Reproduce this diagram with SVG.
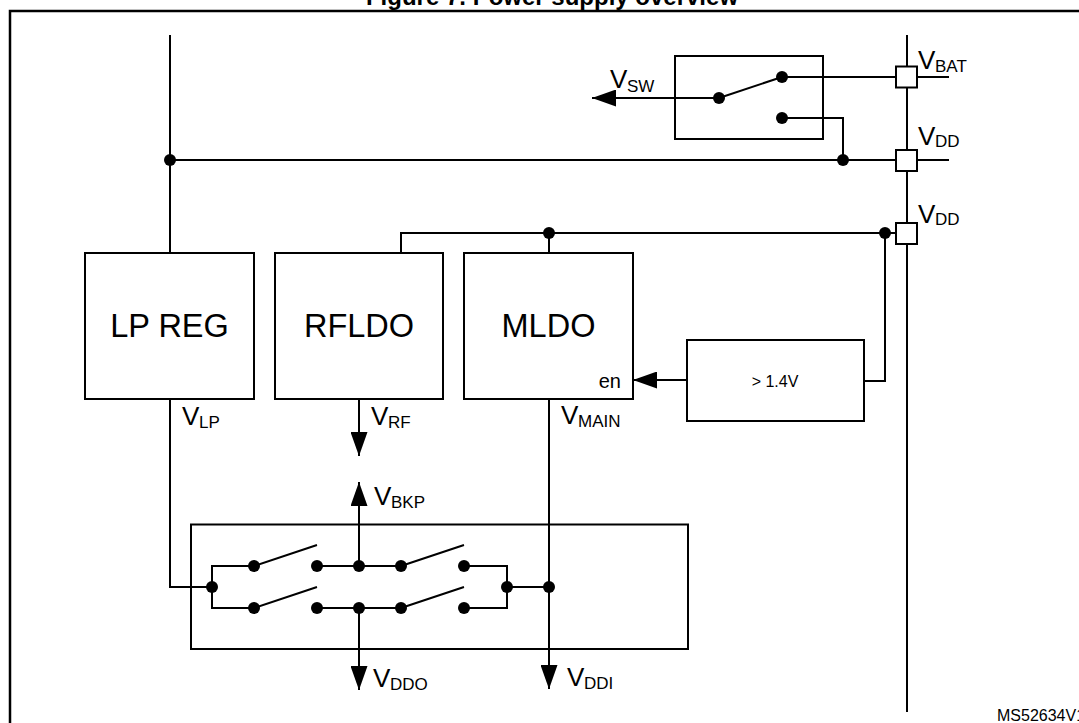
<svg xmlns="http://www.w3.org/2000/svg" width="1079" height="723" viewBox="0 0 1079 723">
<defs>
<marker id="arr" markerUnits="userSpaceOnUse" viewBox="0 0 24 17" markerWidth="24" markerHeight="17" refX="24" refY="8.5" orient="auto">
<path d="M0,0 L24,8.5 L0,17 Z" fill="#000"/>
</marker>
</defs>
<style>
.w{stroke:#000;stroke-width:2;fill:none}
.a{stroke:#000;stroke-width:2;fill:none;marker-end:url(#arr)}
.box{stroke:#000;stroke-width:2;fill:#fff}
.frame{stroke:#000;stroke-width:2;fill:none}
.dot{fill:#000}
text{font-family:"Liberation Sans",Arial,sans-serif;fill:#000}
.big{font-size:32.5px;text-anchor:middle}
.v{font-size:26px}
.s{font-size:17px}
</style>
<rect width="1079" height="723" fill="#fff"/>
<text x="552" y="5" text-anchor="middle" font-weight="bold" font-size="24">Figure 7. Power supply overview</text>
<path d="M10,723 V11 H1079" stroke="#000" stroke-width="2.5" fill="none"/>

<g id="connectors">
<path class="w" d="M170,35 V253"/>
<path class="w" d="M170,160 H949"/>
<path class="w" d="M907,35 V712"/>
<path class="w" d="M782,77 H949"/>
<path class="a" d="M719,98 H592"/>
<path class="w" d="M719,98 L782,77"/>
<path class="w" d="M782,118 H843 V160"/>
<path class="w" d="M401,253 V233 H900"/>
<path class="w" d="M549,233 V253"/>
<path class="w" d="M885,233 V381 H864"/>
<path class="a" d="M687,380 H633"/>
<path class="w" d="M170,399 V587 H212"/>
<path class="a" d="M359,399 V456"/>
<path class="a" d="M549,399 V689"/>
<path class="a" d="M359,566 V482"/>
<path class="a" d="M359,608 V690"/>
<path class="w" d="M254,566 H212 V608 H254"/>
<path class="w" d="M317,566 H401 M317,608 H401"/>
<path class="w" d="M464,566 H507 V608 H464 M507,587 H549"/>
<path class="w" d="M254,566 L317,545 M254,608 L317,587 M401,566 L464,545 M401,608 L464,587"/>
<g class="dot">
<circle cx="170" cy="160" r="6"/>
<circle cx="843" cy="160" r="6"/>
<circle cx="782" cy="77" r="6"/>
<circle cx="719" cy="98" r="6"/>
<circle cx="782" cy="118" r="6"/>
<circle cx="549" cy="233" r="6"/>
<circle cx="885" cy="233" r="6"/>
<circle cx="212" cy="587" r="6"/>
<circle cx="254" cy="566" r="6"/>
<circle cx="317" cy="566" r="6"/>
<circle cx="359" cy="566" r="6"/>
<circle cx="401" cy="566" r="6"/>
<circle cx="464" cy="566" r="6"/>
<circle cx="254" cy="608" r="6"/>
<circle cx="317" cy="608" r="6"/>
<circle cx="359" cy="608" r="6"/>
<circle cx="401" cy="608" r="6"/>
<circle cx="464" cy="608" r="6"/>
<circle cx="507" cy="587" r="6"/>
<circle cx="549" cy="587" r="6"/>
</g>
</g>

<g id="pad-vbat">
<rect class="box" x="896" y="66.5" width="21" height="21"/>
<text class="v" x="918" y="69">V</text><text class="s" x="935" y="72">BAT</text>
</g>
<g id="pad-vdd1">
<rect class="box" x="896" y="150" width="21" height="21"/>
<text class="v" x="918" y="145">V</text><text class="s" x="935" y="147">DD</text>
</g>
<g id="pad-vdd2">
<rect class="box" x="896" y="223" width="21" height="21"/>
<text class="v" x="918" y="223">V</text><text class="s" x="935" y="225">DD</text>
</g>

<g id="vsw-switch">
<rect class="frame" x="675" y="56" width="148" height="83"/>
<text class="v" x="610" y="88">V</text><text class="s" x="627" y="92">SW</text>
</g>

<g id="lpreg">
<rect class="box" x="85" y="253" width="169" height="146"/>
<text class="big" x="169.5" y="337">LP REG</text>
<text class="v" x="182" y="425">V</text><text class="s" x="199" y="428">LP</text>
</g>
<g id="rfldo">
<rect class="box" x="275" y="253" width="168" height="146"/>
<text class="big" x="359" y="337">RFLDO</text>
<text class="v" x="371" y="425">V</text><text class="s" x="388" y="428">RF</text>
</g>
<g id="mldo">
<rect class="box" x="464" y="253" width="169" height="146"/>
<text class="big" x="548.5" y="337">MLDO</text>
<text x="621" y="388" font-size="20" text-anchor="end">en</text>
<text class="v" x="561" y="424">V</text><text class="s" x="578" y="427">MAIN</text>
</g>
<g id="comparator">
<rect class="box" x="687" y="340" width="177" height="81"/>
<text x="775" y="387" font-size="16" text-anchor="middle">&gt; 1.4V</text>
</g>

<g id="backup-switch">
<rect class="frame" x="191" y="524.5" width="497" height="124.5"/>
<text class="v" x="374" y="505">V</text><text class="s" x="391" y="508">BKP</text>
<text class="v" x="373" y="687">V</text><text class="s" x="390" y="690">DDO</text>
<text class="v" x="567" y="686">V</text><text class="s" x="584" y="689">DDI</text>
</g>

<text x="997" y="721" font-size="16">MS52634V1</text>
</svg>
